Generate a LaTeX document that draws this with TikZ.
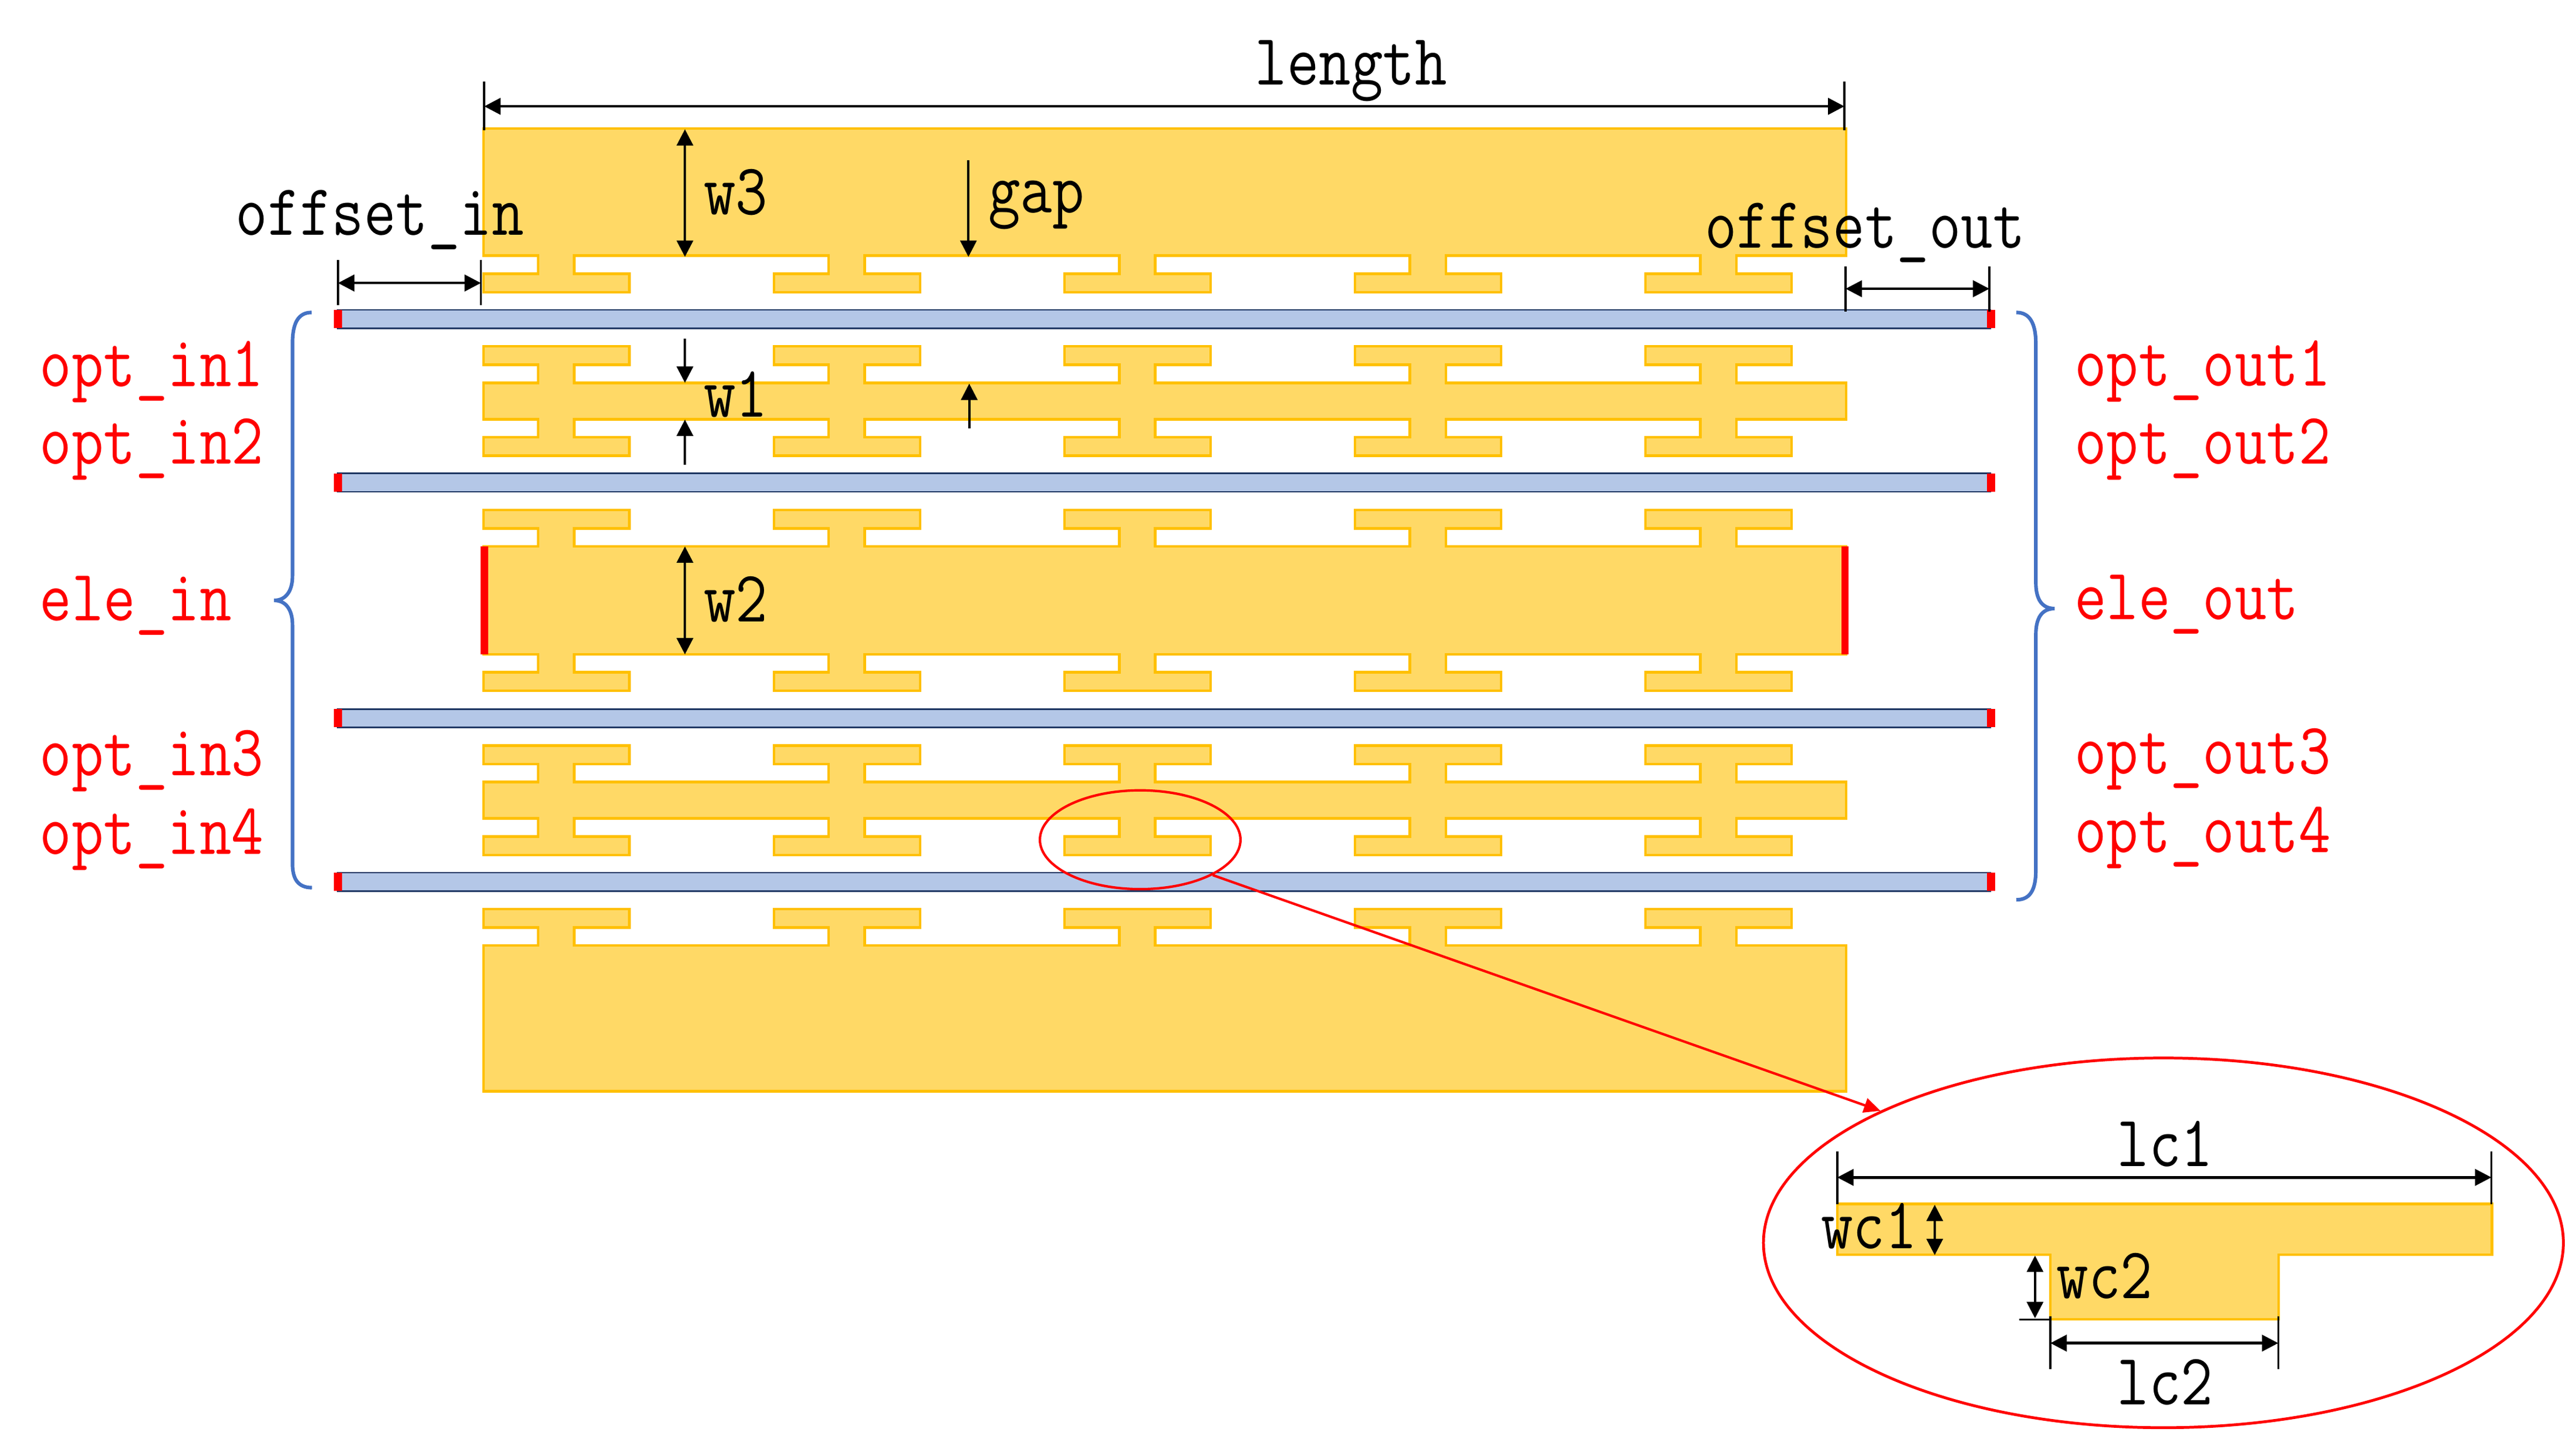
\documentclass[tikz,border=0pt]{standalone}
\usepackage{tikz}
\usetikzlibrary{arrows.meta,shapes.geometric}

\definecolor{metalfill}{HTML}{FFD966}
\definecolor{metaldraw}{HTML}{FFC000}
\definecolor{wavefill}{HTML}{B4C7E7}
\definecolor{wavedraw}{HTML}{203864}
\definecolor{bracecol}{HTML}{4472C4}

\newcommand{\teethup}[1]{\foreach \tx in {295.5,473.1,650.7,828.3,1005.9} {
  -- (\tx+33.5,#1) -- (\tx+33.5,#1-11) -- (\tx,#1-11) -- (\tx,#1-22.3)
  -- (\tx+89.3,#1-22.3) -- (\tx+89.3,#1-11) -- (\tx+55.5,#1-11) -- (\tx+55.5,#1)}}
\newcommand{\teethdown}[1]{\foreach \tx in {1005.9,828.3,650.7,473.1,295.5} {
  -- (\tx+55.5,#1) -- (\tx+55.5,#1+11) -- (\tx+89.3,#1+11) -- (\tx+89.3,#1+22.3)
  -- (\tx,#1+22.3) -- (\tx,#1+11) -- (\tx+33.5,#1+11) -- (\tx+33.5,#1)}}

\begin{document}
\begin{tikzpicture}[
  x=1pt, y=-1pt,
  metal/.style={fill=metalfill, draw=metaldraw, line width=1.6pt},
  wave/.style={fill=wavefill, draw=wavedraw, line width=1pt},
  port/.style={fill=red, draw=none},
  arr/.style={-{Triangle[length=10pt,width=10pt]}, line width=1.3pt},
  darr/.style={{Triangle[length=10pt,width=10pt]}-{Triangle[length=10pt,width=10pt]}, line width=1.3pt},
  harr/.style={{Triangle[length=10pt,width=10pt]}-{Triangle[length=10pt,width=10pt]}, line width=1.6pt},
  tick/.style={line width=1.2pt},
  lab/.style={font=\fontsize{38}{38}\fontseries{l}\selectfont\ttfamily, inner sep=0pt, anchor=base west, yscale=1.17, transform shape},
  redlab/.style={lab, text=red},
  brace/.style={draw=bracecol, line width=2.2pt}
]
  \useasboundingbox (0,0) rectangle (1568,890);

  \draw[metal] (295.5,78.5) -- (1128.5,78.5) -- (1128.5,156.3) \teethdown{156.3} -- (295.5,156.3) -- cycle;
  \draw[metal] (295.5,234) \teethup{234} -- (1128.5,234) -- (1128.5,256.3) \teethdown{256.3} -- (295.5,256.3) -- cycle;
  \draw[metal] (295.5,334) \teethup{334} -- (1128.5,334) -- (1128.5,400) \teethdown{400} -- (295.5,400) -- cycle;
  \draw[metal] (295.5,478) \teethup{478} -- (1128.5,478) -- (1128.5,500.3) \teethdown{500.3} -- (295.5,500.3) -- cycle;
  \draw[metal] (295.5,578) \teethup{578} -- (1128.5,578) -- (1128.5,667) -- (295.5,667) -- cycle;

  \fill[port] (293.8,334) rectangle (298.3,400);
  \fill[port] (1125.5,334) rectangle (1130,400);

  \foreach \wy in {195,295,439,539} {
    \draw[wave] (206.5,\wy-5.6) rectangle (1216.6,\wy+5.6);
    \fill[port] (204.2,\wy-5.6) rectangle (209,\wy+5.6);
    \fill[port] (1214.7,\wy-5.6) rectangle (1219.5,\wy+5.6);
  }

  \draw[brace] (190.5,191) .. controls (182,191) and (178.8,198) .. (178.8,210) -- (178.8,352)
    .. controls (178.8,361) and (175,367) .. (167.5,367) .. controls (175,367) and (178.8,373) .. (178.8,382)
    -- (178.8,528) .. controls (178.8,537) and (182,542.6) .. (190.7,542.6);
  \draw[brace] (1232.6,191) .. controls (1241,191) and (1244.5,198) .. (1244.5,210) -- (1244.5,356)
    .. controls (1244.5,366) and (1248,372) .. (1256,372) .. controls (1248,372) and (1244.5,378) .. (1244.5,388)
    -- (1244.5,532) .. controls (1244.5,544) and (1241,550) .. (1232.6,550);

  \draw[tick] (296,50) -- (296,79.5);
  \draw[tick] (1127.5,50) -- (1127.5,79.5);
  \draw[harr] (296,65) -- (1127.5,65);
  \draw[tick] (206.6,159) -- (206.6,186.5);
  \draw[tick] (294,159) -- (294,186.5);
  \draw[harr] (206.6,173) -- (294,173);
  \draw[tick] (1128.2,163) -- (1128.2,190.4);
  \draw[tick] (1216.1,163) -- (1216.1,190.4);
  \draw[harr] (1128.2,176.5) -- (1216.1,176.5);

  \draw[darr] (418.7,79) -- (418.7,157);
  \draw[arr] (592,98) -- (592,157);
  \draw[arr] (418.7,207) -- (418.7,234);
  \draw[arr] (418.7,284) -- (418.7,256.5);
  \draw[arr] (592.5,262) -- (592.5,234.5);
  \draw[darr] (418.7,334) -- (418.7,400);

  \node[lab] (lengthlab) at (767,52) {length};
  \node[lab] (offinlab) at (144,143.7) {offset\_in};
  \node[lab] (offoutlab) at (1042,151.5) {offset\_out};
  \node[lab] (wthreelab) at (430,131) {w3};
  \node[lab] (gaplab) at (604,130) {gap};
  \node[lab] (wonelab) at (430,255) {w1};
  \node[lab] (wtwolab) at (430,380) {w2};

  \node[redlab] (optinone) at (24,236.3) {opt\_in1};
  \node[redlab] (optintwo) at (24,283.7) {opt\_in2};
  \node[redlab] (elein) at (24,379.5) {ele\_in};
  \node[redlab] (optinthree) at (24,474) {opt\_in3};
  \node[redlab] (optinfour) at (24,522) {opt\_in4};
  \node[redlab] (optoutone) at (1268,236) {opt\_out1};
  \node[redlab] (optouttwo) at (1268,283.5) {opt\_out2};
  \node[redlab] (eleout) at (1268,378.5) {ele\_out};
  \node[redlab] (optoutthree) at (1268,473) {opt\_out3};
  \node[redlab] (optoutfour) at (1268,521) {opt\_out4};

  \node[draw=red, ellipse, line width=1.5pt, inner sep=0pt, minimum width=122.6pt, minimum height=60.4pt] (zoomsmall) at (697,513.3) {};
  \node[draw=red, ellipse, line width=1.7pt, inner sep=0pt, minimum width=489pt, minimum height=226pt] (zoombig) at (1322.5,759.7) {};
  \draw[red, line width=1.5pt, -{Triangle[length=10pt,width=9pt]}] (zoomsmall.-26) -- (zoombig.155);

  \draw[metal] (1123.1,736) -- (1523.3,736) -- (1523.3,766.9) -- (1393,766.9) -- (1393,806.5) -- (1253.4,806.5) -- (1253.4,766.9) -- (1123.1,766.9) -- cycle;

  \draw[tick] (1123.1,703.7) -- (1123.1,736);
  \draw[tick] (1523,703.7) -- (1523,736);
  \draw[harr] (1123.1,719.7) -- (1523,719.7);
  \draw[tick] (1253.4,804.6) -- (1253.4,837);
  \draw[tick] (1392.7,804.6) -- (1392.7,837);
  \draw[harr] (1253.4,821) -- (1392.7,821);
  \draw[darr] (1182.7,736.4) -- (1182.7,767.2);
  \draw[darr] (1244,767.5) -- (1244,805.8);
  \draw[tick] (1234.5,806.5) -- (1253.4,806.5);

  \node[lab] (lconelab) at (1294,713) {lc1};
  \node[lab] (wconelab) at (1113,763.3) {wc1};
  \node[lab] (wctwolab) at (1257,793.7) {wc2};
  \node[lab] (lctwolab) at (1294,858.7) {lc2};
\end{tikzpicture}
\end{document}
